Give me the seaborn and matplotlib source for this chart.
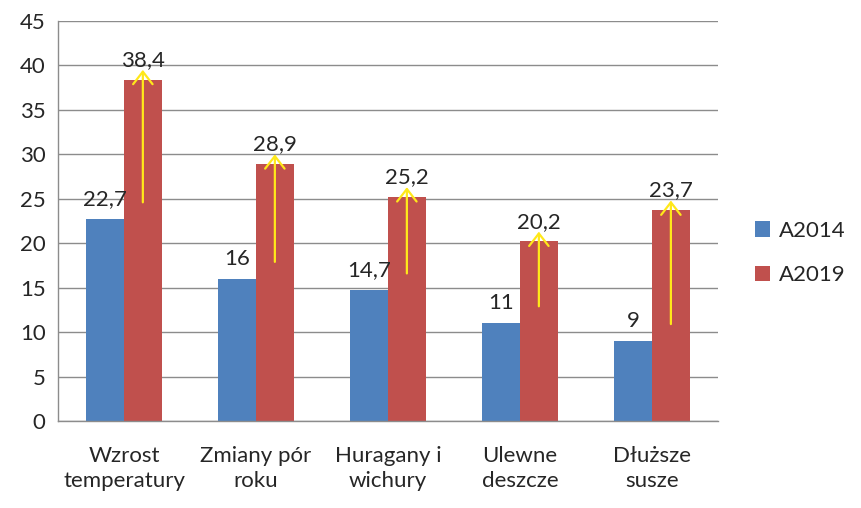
import matplotlib
matplotlib.use("Agg")
import matplotlib.pyplot as plt
import seaborn as sns
import pandas as pd

categories = ["Wzrost\ntemperatury", "Zmiany pór\nroku", "Huragany i\nwichury",
              "Ulewne\ndeszcze", "Dłuższe\nsusze"]
a2014 = [22.7, 16, 14.7, 11, 9]
a2019 = [38.4, 28.9, 25.2, 20.2, 23.7]
series = ["A2014", "A2019"]
colors = ["#4F81BD", "#C0504D"]

# long format for seaborn
df = pd.DataFrame({
    "kat": categories * 2,
    "wartosc": a2014 + a2019,
    "seria": [series[0]] * len(categories) + [series[1]] * len(categories),
})

sns.set_style("white")
plt.rcParams["font.family"] = ["Lato", "DejaVu Sans"]
fs = 16

fig = plt.figure(figsize=(8.61, 5.08), dpi=100)
ax = fig.add_axes([0.0674, 0.1713, 0.7666, 0.7874])

sns.barplot(data=df, x="kat", y="wartosc", hue="seria", palette=colors,
            width=0.57, saturation=1, linewidth=0, ax=ax, legend=True)

ax.set_ylim(0, 45)
ax.set_xlim(-0.5, len(categories) - 0.5)
ax.set_yticks(range(0, 46, 5))
ax.yaxis.grid(True, color="#8c8c8c", linewidth=1)
ax.set_axisbelow(True)
ax.set_xlabel("")
ax.set_ylabel("")

for s in ["top", "right"]:
    ax.spines[s].set_visible(False)
for s in ["left", "bottom"]:
    ax.spines[s].set_color("#8c8c8c")
    ax.spines[s].set_linewidth(1)

# x ticks sit between categories, labels at the centres
ax.set_xticks([i for i in range(len(categories))])
ax.set_xticklabels(categories, fontsize=fs, linespacing=1.3)
ax.tick_params(axis="x", length=0, pad=18)
ax.set_xticks([i - 0.5 for i in range(len(categories) + 1)], minor=True)
ax.tick_params(axis="x", which="minor", length=6, color="#8c8c8c", direction="out")
ax.tick_params(axis="y", labelsize=fs, length=5, color="#8c8c8c", pad=4)

# value labels with decimal comma
for cont in ax.containers:
    vals = cont.datavalues
    ax.bar_label(cont, labels=[f"{v:g}".replace(".", ",") for v in vals],
                 padding=7, fontsize=fs)

# yellow arrows inside the A2019 bars
red_bars = ax.containers[1]
for bar, lo, hi in zip(red_bars, a2014, a2019):
    x = bar.get_x() + bar.get_width() / 2
    ax.annotate("", xy=(x, hi + 1.1), xytext=(x, lo + 1.9),
                arrowprops=dict(arrowstyle="->,head_length=0.9,head_width=0.7",
                                color="#FFE81A", lw=1.6, shrinkA=0, shrinkB=0))

leg = ax.legend(loc="center left", bbox_to_anchor=(1.025, 0.42), frameon=False,
                fontsize=fs, handlelength=0.7, handleheight=0.7,
                handletextpad=0.4, labelspacing=1.1)
leg.set_title(None)

fig.savefig("out.png", dpi=100)
